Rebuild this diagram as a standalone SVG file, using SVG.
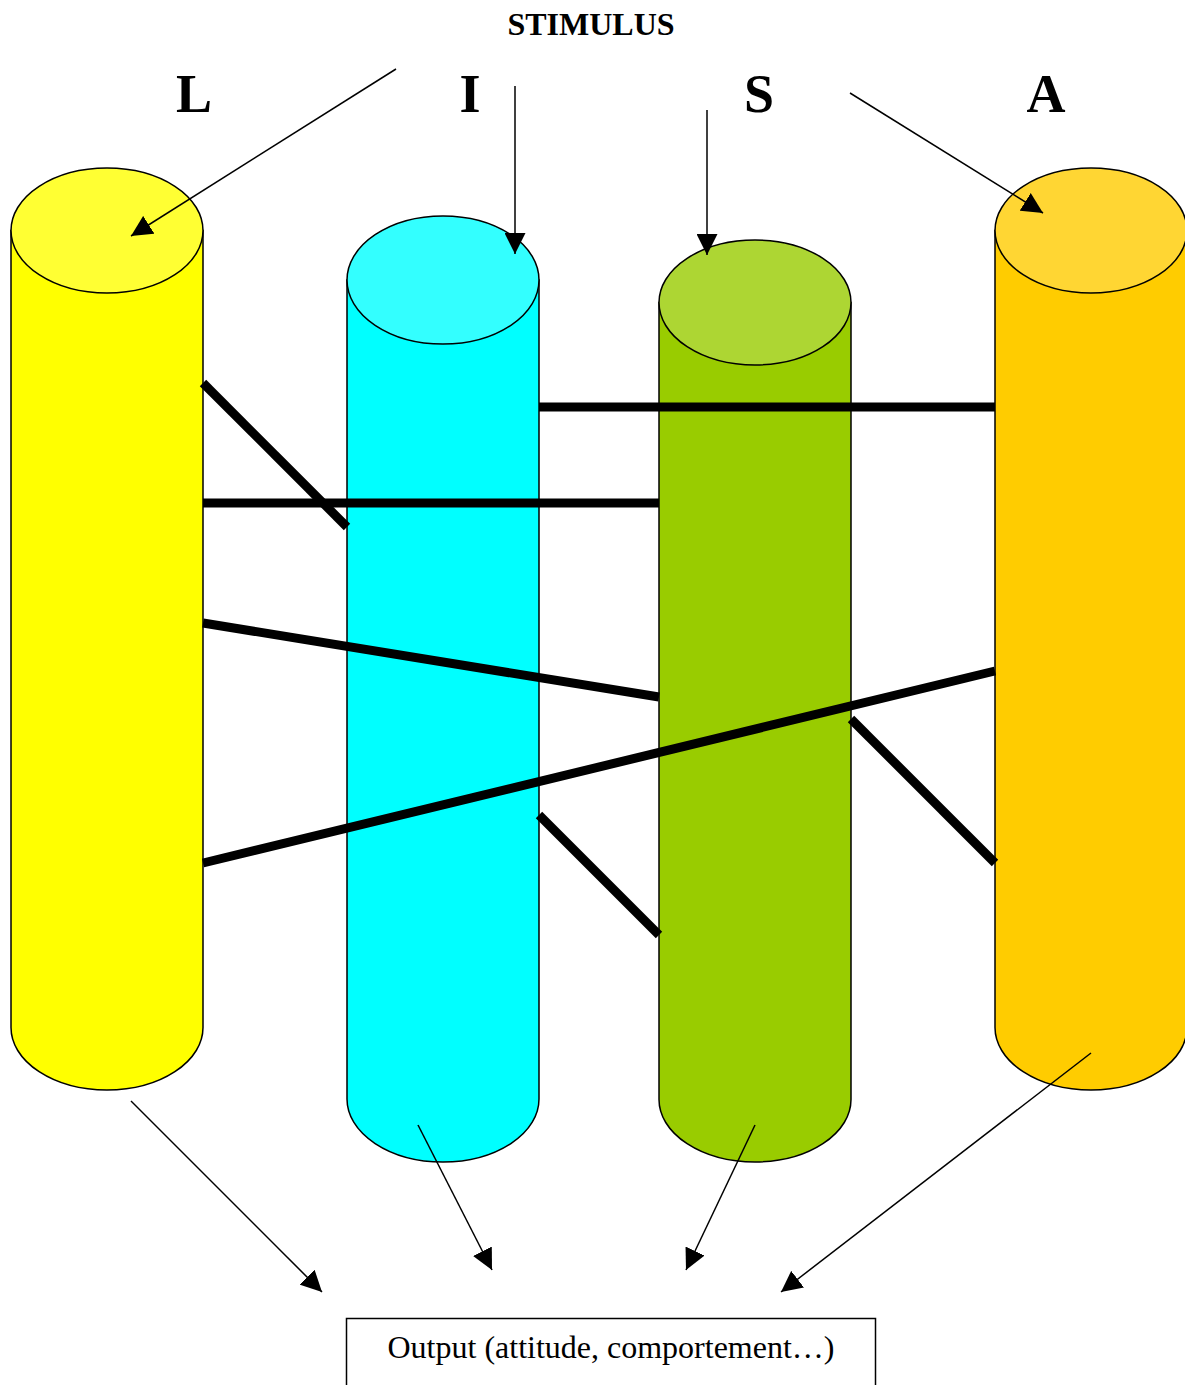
<svg xmlns="http://www.w3.org/2000/svg" width="1185" height="1385" viewBox="0 0 1185 1385">
<style>
.cyl{stroke:#000;stroke-width:1.5}
.conn{stroke:#000;stroke-width:1.5;fill:none}
.thick{stroke:#000;stroke-width:9;fill:none}
.lbl{font-family:"Liberation Serif","Times New Roman",serif;font-weight:bold;fill:#000}
.out{font-family:"Liberation Serif","Times New Roman",serif;fill:#000}
</style>
<defs>
<marker id="ah" viewBox="0 0 10 10" refX="10" refY="5" markerWidth="21" markerHeight="21" markerUnits="userSpaceOnUse" orient="auto">
<path d="M0,0 L10,5 L0,10 Z" fill="#000"/>
</marker>
</defs>
<rect width="1185" height="1385" fill="#fff"/>
<g id="title">
<text class="lbl" x="591" y="35" font-size="32" text-anchor="middle">STIMULUS</text>
<text class="lbl" x="194" y="112" font-size="54" text-anchor="middle">L</text>
<text class="lbl" x="470" y="112" font-size="54" text-anchor="middle">I</text>
<text class="lbl" x="759" y="112" font-size="54" text-anchor="middle">S</text>
<text class="lbl" x="1046" y="112" font-size="54" text-anchor="middle">A</text>
</g>
<g id="cyl-L">
<path class="cyl" fill="#FFFF00" d="M11,230.5 V1027.5 A96,62.5 0 0 0 203,1027.5 V230.5 Z"/>
<ellipse class="cyl" fill="#FFFF33" cx="107" cy="230.5" rx="96" ry="62.5"/>
</g>
<g id="cyl-I">
<path class="cyl" fill="#00FFFF" d="M347,280 V1099 A96,63 0 0 0 539,1099 V280 Z"/>
<ellipse class="cyl" fill="#33FFFF" cx="443" cy="280" rx="96" ry="64"/>
</g>
<g id="cyl-S">
<path class="cyl" fill="#99CC00" d="M659,302.5 V1099.5 A96,62.5 0 0 0 851,1099.5 V302.5 Z"/>
<ellipse class="cyl" fill="#ADD633" cx="755" cy="302.5" rx="96" ry="62.5"/>
</g>
<g id="cyl-A">
<path class="cyl" fill="#FFCC00" d="M995,230.5 V1027.5 A96,62.5 0 0 0 1187,1027.5 V230.5 Z"/>
<ellipse class="cyl" fill="#FFD633" cx="1091" cy="230.5" rx="96" ry="62.5"/>
</g>
<g id="output">
<rect x="346.5" y="1318.5" width="529" height="80" fill="#fff" stroke="#000" stroke-width="1.5"/>
<text class="out" x="611" y="1358" font-size="32" text-anchor="middle">Output (attitude, comportement…)</text>
</g>
<g id="connectors">
<line class="thick" x1="203" y1="383" x2="347" y2="527"/>
<line class="thick" x1="203" y1="503" x2="659" y2="503"/>
<line class="thick" x1="539" y1="407" x2="995" y2="407"/>
<line class="thick" x1="203" y1="623" x2="659" y2="697"/>
<line class="thick" x1="203" y1="863" x2="995" y2="671"/>
<line class="thick" x1="851" y1="719" x2="995" y2="863"/>
<line class="thick" x1="539" y1="815" x2="659" y2="935"/>
<line class="conn" x1="396" y1="69" x2="131" y2="236" marker-end="url(#ah)"/>
<line class="conn" x1="515" y1="86" x2="515" y2="254" marker-end="url(#ah)"/>
<line class="conn" x1="707" y1="110" x2="707" y2="255" marker-end="url(#ah)"/>
<line class="conn" x1="850" y1="93" x2="1043" y2="213" marker-end="url(#ah)"/>
<line class="conn" x1="131" y1="1101" x2="322" y2="1292" marker-end="url(#ah)"/>
<line class="conn" x1="418" y1="1125" x2="492" y2="1270" marker-end="url(#ah)"/>
<line class="conn" x1="755" y1="1125" x2="686" y2="1270" marker-end="url(#ah)"/>
<line class="conn" x1="1091" y1="1053" x2="781" y2="1292" marker-end="url(#ah)"/>
</g>
</svg>
